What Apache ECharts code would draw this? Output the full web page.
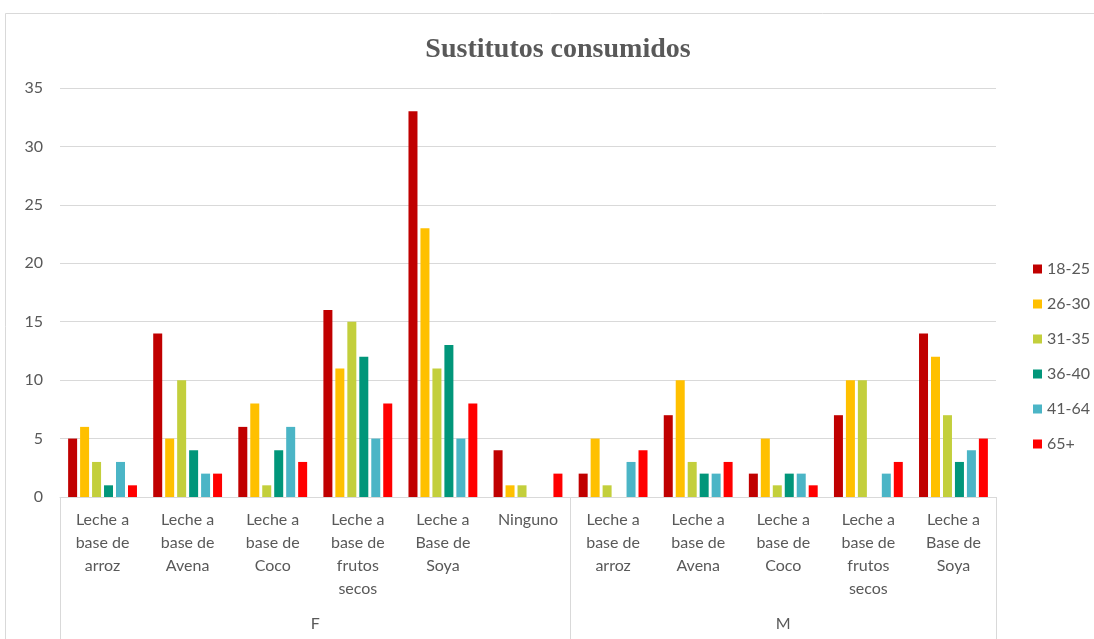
<!DOCTYPE html>
<html>
<head>
<meta charset="utf-8">
<script src="https://cdn.jsdelivr.net/npm/echarts@6/dist/echarts.min.js"></script>
<style>
  html, body { margin: 0; padding: 0; background: #fff; }
  #chart { width: 1094px; height: 639px; }
</style>
</head>
<body>
<div id="chart"></div>
<script>
// categories (F: 6, M: 5)
const categories = [
  'Leche a\nbase de\narroz', 'Leche a\nbase de\nAvena', 'Leche a\nbase de\nCoco',
  'Leche a\nbase de\nfrutos\nsecos', 'Leche a\nBase de\nSoya', 'Ninguno',
  'Leche a\nbase de\narroz', 'Leche a\nbase de\nAvena', 'Leche a\nbase de\nCoco',
  'Leche a\nbase de\nfrutos\nsecos', 'Leche a\nBase de\nSoya'
];
const groups = ['F', 'M'];
const groupSizes = [6, 5];

const seriesNames = ['18-25', '26-30', '31-35', '36-40', '41-64', '65+'];
const age18_25 = [5, 14, 6, 16, 33, 4, 2, 7, 2, 7, 14];
const age26_30 = [6, 5, 8, 11, 23, 1, 5, 10, 5, 10, 12];
const age31_35 = [3, 10, 1, 15, 11, 1, 1, 3, 1, 10, 7];
const age36_40 = [1, 4, 4, 12, 13, 0, 0, 2, 2, 0, 3];
const age41_64 = [3, 2, 6, 5, 5, 0, 3, 2, 2, 2, 4];
const age65 = [1, 2, 3, 8, 8, 2, 4, 3, 1, 3, 5];
const seriesData = [age18_25, age26_30, age31_35, age36_40, age41_64, age65];
const colors = ['#C00000', '#FFC000', '#C3CF3C', '#01967A', '#4BB5C6', '#FF0000'];

// group boundaries and label centers on a 0..11 scale
const bounds = [0];
groupSizes.forEach(n => bounds.push(bounds[bounds.length - 1] + n));
const groupCenters = groups.map((g, i) => (bounds[i] + bounds[i + 1]) / 2);

const textColor = '#595959';
const lineColor = '#d9d9d9';
const font = 'Lato, "Open Sans", sans-serif';

const chart = echarts.init(document.getElementById('chart'), null, { renderer: 'canvas' });

const series = seriesNames.map((name, i) => ({
  name,
  type: 'bar',
  xAxisIndex: 0,
  data: seriesData[i],
  barWidth: 9,
  barGap: '33%',
  itemStyle: { color: colors[i] },
  emphasis: { disabled: true },
}));

chart.setOption({
  animation: false,
  backgroundColor: '#fff',
  graphic: [{
    type: 'rect',
    shape: { x: 5.5, y: 13.5, width: 1200, height: 700 },
    style: { fill: 'none', stroke: lineColor, lineWidth: 1 },
    silent: true,
  }],
  title: {
    text: 'Sustitutos consumidos',
    left: 553,
    top: 31,
    textAlign: 'center',
    textStyle: { fontFamily: '"Liberation Serif", serif', fontWeight: 'bold', fontSize: 28, color: textColor },
  },
  legend: {
    orient: 'vertical',
    left: 1028,
    top: 256,
    itemWidth: 9,
    itemHeight: 9,
    itemGap: 19,
    icon: 'rect',
    textStyle: { fontFamily: font, fontSize: 16, color: textColor },
    data: seriesNames,
  },
  grid: { left: 60, right: 98, top: 88, bottom: 142 },
  xAxis: [{
    type: 'category',
    data: categories,
    axisLine: { lineStyle: { color: lineColor } },
    axisTick: { show: false },
    axisLabel: {
      interval: 0,
      fontFamily: font,
      fontSize: 16,
      lineHeight: 23,
      color: textColor,
      margin: 11,
      verticalAlign: 'top',
    },
  }, {
    type: 'value',
    min: 0,
    max: bounds[bounds.length - 1],
    position: 'bottom',
    offset: 142,
    axisLine: { show: false },
    splitLine: { show: false },
    axisTick: {
      show: true,
      customValues: bounds,
      inside: true,
      length: 142,
      lineStyle: { color: lineColor },
    },
    axisLabel: {
      customValues: groupCenters,
      inside: true,
      margin: 7,
      formatter: v => groups[groupCenters.indexOf(v)] || '',
      fontFamily: font,
      fontSize: 16,
      color: textColor,
    },
  }],
  yAxis: {
    type: 'value',
    min: 0,
    max: 35,
    interval: 5,
    axisLine: { show: false },
    axisTick: { show: false },
    axisLabel: { fontFamily: font, fontSize: 16, color: textColor, margin: 17 },
    splitLine: { lineStyle: { color: lineColor } },
  },
  series,
});
</script>
</body>
</html>
